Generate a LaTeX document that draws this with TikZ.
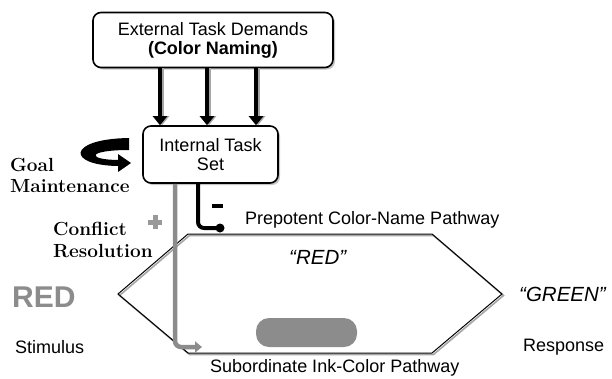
\documentclass[tikz,border=0pt]{standalone}
\usepackage{fontspec}
\newfontfamily\arial{Liberation Sans}
\usetikzlibrary{arrows.meta,shadows}
\begin{document}
\begin{tikzpicture}[x=1pt,y=-1pt,
  taskbox/.style={draw=black,line width=1.6pt,rounded corners=8pt,fill=white,align=center,
    font=\arial\fontsize{18}{19}\selectfont,drop shadow={shadow xshift=2pt,shadow yshift=-2pt,fill=black!45}},
  bigarrow/.style={line width=4.5pt,-{Triangle[length=9pt,width=14pt]}},
  lbl/.style={font=\arial\fontsize{18}{20}\selectfont,inner sep=0pt},
  serifl/.style={font=\bfseries\fontsize{19}{21}\selectfont,inner sep=0pt,align=left}]
\useasboundingbox (0,0) rectangle (612,378);
% hexagon (drawn directly)
\draw[black!35,line width=1.6pt,line join=miter] (189.5,235.5) -- (433.5,235.5) -- (503.5,295.5) -- (433.5,354.5) -- (189.5,354.5) -- (119.5,295.5) -- cycle;
\draw[black,line width=1pt] (188,234) -- (432,234) -- (502,294) -- (432,353) -- (188,353) -- (118,294) -- cycle;
% nodes
\node[taskbox,minimum width=240pt,minimum height=55pt] (ext) at (213,40) {External Task Demands\\\textbf{(Color Naming)}};
\node[taskbox,minimum width=135pt,minimum height=57pt] (int) at (210.5,154.5) {Internal Task\\Set};
\node[lbl,anchor=west] (prep) at (245,220) {Prepotent Color-Name Pathway};
\node[lbl,anchor=west] (sub) at (210,368) {Subordinate Ink-Color Pathway};
\node[lbl,anchor=west,font=\arial\itshape\fontsize{20.5}{22}\selectfont] (red) at (289,257) {“RED”};
\node[lbl,anchor=west,font=\arial\itshape\fontsize{20.5}{22}\selectfont] (green) at (519,294) {“GREEN”};
\node[lbl,anchor=west] (resp) at (523,347) {Response};
\node[lbl,anchor=west] (stim) at (15,347) {Stimulus};
\node[lbl,anchor=west,font=\arial\bfseries\fontsize{30}{32}\selectfont,text=black!45] (stimword) at (12,297) {RED};
\node[serifl,anchor=west] (goal) at (10,165) {Goal};
\node[serifl,anchor=west] (maint) at (10,186) {Maintenance};
\node[serifl,anchor=west] (confl) at (53,229) {Conflict};
\node[serifl,anchor=west] (resol) at (53,251) {Resolution};
\node[fill=black!45,rounded corners=13pt,minimum width=101pt,minimum height=29pt] (pill) at (306.5,332.5) {};
% plus and minus signs
\draw[black!40,line width=5pt] (148,222) -- (162,222) (155,215) -- (155,229);
\draw[black,line width=3.5pt] (212,206) -- (223,206);
% arrows from external to internal
\foreach \xx in {160,207,256}{
  \draw[bigarrow,black!35] (\xx+2,0 |- ext.south) -- (\xx+2,2 |- int.north);
  \draw[bigarrow] (\xx,0 |- ext.south) -- (\xx,0 |- int.north);
}
% goal maintenance loop (tapered swoosh)
\fill[black] (129,138) .. controls (66,139) and (66,166) .. (120,166) -- (120,160)
  .. controls (86,160) and (86,150) .. (129,150) -- cycle;
\coordinate (gm) at (131,163);
\fill[black] (118,154) -- (gm) -- (118,172) -- cycle;
% gray subordinate pathway
\coordinate (subend) at (202,347);
\draw[black!45,line width=4.5pt,rounded corners=6pt,-{Triangle[length=7pt,width=11pt]}] (175,0 |- int.south) |- (subend);
% black prepotent pathway with inhibitory dot
\coordinate (prepend) at (220,228);
\draw[black,line width=4pt,rounded corners=6pt] (198,0 |- int.south) |- (prepend);
\fill (prepend) circle (4.5pt);
\end{tikzpicture}
\end{document}
